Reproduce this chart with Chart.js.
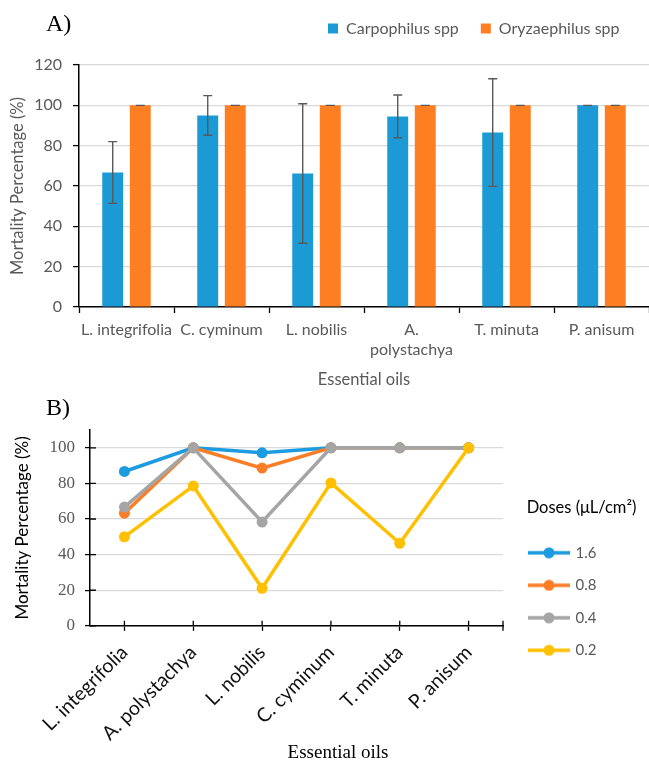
<!DOCTYPE html>
<html><head><meta charset="utf-8">
<script src="https://cdn.jsdelivr.net/npm/chart.js@4.4.1/dist/chart.umd.min.js"></script>
<style>
html,body{margin:0;padding:0;background:#fff;width:649px;height:761px;overflow:hidden;}
#wrapA{position:absolute;left:0;top:0;width:649px;height:395px;}
#wrapB{position:absolute;left:0;top:395px;width:649px;height:366px;}
.panel{position:absolute;font-family:'Liberation Serif','Times New Roman',serif;font-size:24px;line-height:28px;color:#000;}
</style></head><body>
<div id="wrapA"><canvas id="chartA" width="649" height="395"></canvas></div>
<div id="wrapB"><canvas id="chartB" width="649" height="366"></canvas></div>
<div class="panel" style="left:46px;top:9px">A)</div>
<div class="panel" style="left:46px;top:393px">B)</div>
<script>
// ---------- data ----------
const oilsA = ['L. integrifolia', 'C. cyminum', 'L. nobilis', ['A.', 'polystachya'], 'T. minuta', 'P. anisum'];
const carpophilus = [66.7, 95.0, 66.2, 94.5, 86.5, 100];
const carpophilusErr = [15.3, 9.8, 34.6, 10.6, 26.7, 0];
const oryzaephilus = [100, 100, 100, 100, 100, 100];
const oryzaephilusErr = [0, 0, 0, 0, 0, 0];
const ticksA = [0, 20, 40, 60, 80, 100, 120];

const oilsB = ['L. integrifolia', 'A. polystachya', 'L. nobilis', 'C. cyminum', 'T. minuta', 'P. anisum'];
const doseLabels = ['1.6', '0.8', '0.4', '0.2'];
const dose16 = [86.7, 100, 97.2, 100, 100, 100];
const dose08 = [63.3, 100, 88.6, 100, 100, 100];
const dose04 = [66.7, 100, 58.3, 100, 100, 100];
const dose02 = [50, 78.6, 21.1, 80.3, 46.4, 100];
const ticksB = [0, 20, 40, 60, 80, 100];

Chart.defaults.font.family = 'Lato';
const GREY_TXT = '#595959';

// ---------- chart A ----------
const errorBars = {
  id: 'errorBars',
  afterDatasetsDraw(chart) {
    const ctx = chart.ctx, ys = chart.scales.y;
    chart.data.datasets.forEach((ds, di) => {
      const meta = chart.getDatasetMeta(di);
      meta.data.forEach((bar, i) => {
        const v = ds.data[i], e = ds.errors[i];
        const x = bar.x;
        const top = ys.getPixelForValue(v + e);
        const bot = ys.getPixelForValue(v - e);
        ctx.save();
        ctx.strokeStyle = '#595959';
        ctx.lineWidth = 1.4;
        ctx.beginPath();
        ctx.moveTo(x, top); ctx.lineTo(x, bot);
        ctx.moveTo(x - 4.5, top); ctx.lineTo(x + 4.5, top);
        ctx.moveTo(x - 4.5, bot); ctx.lineTo(x + 4.5, bot);
        ctx.stroke();
        ctx.restore();
      });
    });
  }
};
const legendPosA = {
  id: 'legendPosA',
  afterInit(chart) {
    const lg = chart.legend;
    const orig = lg.fit.bind(lg);
    lg.fit = function () { orig(); this.height = 65; };
  },
  beforeDraw(chart) {
    const lg = chart.legend;
    lg.left = 306; lg.right = 649; lg.top = -1.5; lg.bottom = 60;
  }
};

new Chart(document.getElementById('chartA'), {
  type: 'bar',
  data: {
    labels: oilsA,
    datasets: [
      { label: 'Carpophilus spp', data: carpophilus, errors: carpophilusErr, backgroundColor: '#1c9ad6', borderWidth: 0,
        categoryPercentage: 0.58, barPercentage: 0.76 },
      { label: 'Oryzaephilus spp', data: oryzaephilus, errors: oryzaephilusErr, backgroundColor: '#fe7f22', borderWidth: 0,
        categoryPercentage: 0.58, barPercentage: 0.76 }
    ]
  },
  options: {
    responsive: false, animation: false,
    layout: { padding: 0 },
    plugins: {
      legend: {
        display: true, position: 'top', align: 'start',
        labels: { boxWidth: 10, boxHeight: 10, padding: 22, color: GREY_TXT, font: { size: 16 } }
      },
      tooltip: { enabled: false }
    },
    scales: {
      x: {
        grid: { display: true, offset: true, drawOnChartArea: false, tickLength: 6, tickColor: '#000', tickWidth: 1.3 },
        border: { color: '#000', width: 1.5 },
        ticks: { color: GREY_TXT, font: { size: 16, lineHeight: 1.3 }, padding: 6, maxRotation: 0, autoSkip: false },
        title: { display: true, text: 'Essential oils', color: GREY_TXT, font: { size: 16.5, lineHeight: 1.2 }, padding: { top: 0, bottom: 5 } },
        afterFit(s) { s.height = 88; }
      },
      y: {
        min: 0, max: 120,
        afterBuildTicks(s) { s.ticks = ticksA.map(v => ({ value: v })); },
        grid: { color: '#d9d9d9', lineWidth: 1.2, tickLength: 6, tickColor: '#000', tickWidth: 1.3 },
        border: { color: '#000', width: 1.5 },
        ticks: { color: GREY_TXT, font: { size: 16 }, padding: 11 },
        title: { display: true, text: 'Mortality Percentage (%)', color: GREY_TXT, font: { size: 16.5, lineHeight: 1.2 }, padding: { top: 8 } },
        afterFit(s) { s.width = 79; }
      }
    }
  },
  plugins: [errorBars, legendPosA]
});

// ---------- chart B ----------
const colorsB = ['#1b9be0', '#fb7e27', '#a5a5a5', '#ffc000'];
function legendIcon(color) {
  const c = document.createElement('canvas');
  c.width = 42; c.height = 12;
  const g = c.getContext('2d');
  g.strokeStyle = color; g.lineWidth = 3.5;
  g.beginPath(); g.moveTo(0, 6); g.lineTo(42, 6); g.stroke();
  g.fillStyle = color;
  g.beginPath(); g.arc(21, 6, 5.5, 0, Math.PI * 2); g.fill();
  return c;
}
const icons = colorsB.map(legendIcon);

const legendPosB = {
  id: 'legendPosB',
  afterInit(chart) {
    const lg = chart.legend;
    const orig = lg.fit.bind(lg);
    lg.fit = function () { orig(); this.width = 146; };
  },
  beforeDraw(chart) {
    const lg = chart.legend;
    lg.left = 512.5; lg.width = 138; lg.right = 649; lg.top = 104; lg.bottom = 366;
  }
};
const crossTicks = {
  id: 'crossTicks',
  afterDraw(chart) {
    const ctx = chart.ctx, xs = chart.scales.x, ys = chart.scales.y, a = chart.chartArea;
    ctx.save();
    ctx.strokeStyle = '#000'; ctx.lineWidth = 1.3;
    ctx.beginPath();
    for (let i = 0; i < xs.ticks.length; i++) {
      const x = xs.getPixelForTick(i);
      ctx.moveTo(x, a.bottom - 5); ctx.lineTo(x, a.bottom);
    }
    ctx.moveTo(a.right, a.bottom - 5); ctx.lineTo(a.right, a.bottom + 5);
    ys.ticks.forEach(t => {
      const y = ys.getPixelForValue(t.value);
      ctx.moveTo(a.left, y); ctx.lineTo(a.left + 6, y);
    });
    ctx.stroke();
    ctx.restore();
  }
};

const seriesB = [dose16, dose08, dose04, dose02];
new Chart(document.getElementById('chartB'), {
  type: 'line',
  data: {
    labels: oilsB,
    datasets: seriesB.map((d, i) => ({
      label: doseLabels[i], data: d,
      borderColor: colorsB[i], backgroundColor: colorsB[i],
      pointBackgroundColor: colorsB[i], pointBorderColor: colorsB[i],
      borderWidth: 3.5, pointRadius: 5.5, pointBorderWidth: 0,
      tension: 0, fill: false, order: 4 - i
    }))
  },
  options: {
    responsive: false, animation: false,
    layout: { padding: { left: 27, top: 35, right: 0, bottom: 0 } },
    plugins: {
      tooltip: { enabled: false },
      title: {
        display: true, position: 'bottom', text: 'Essential oils', color: '#000',
        font: { family: 'Liberation Serif', size: 19, weight: 'normal', lineHeight: 0.85 }, padding: 0
      },
      legend: {
        display: true, position: 'right', align: 'start',
        title: { display: true, text: 'Doses (μL/cm²)', color: '#000', font: { size: 16.5, lineHeight: 1.2 }, padding: { top: 0, bottom: 9 }, position: 'center' },
        labels: {
          usePointStyle: true, pointStyleWidth: 38, padding: 17.5, color: GREY_TXT, font: { size: 15 },
          sort: (a, b) => a.datasetIndex - b.datasetIndex,
          generateLabels(chart) {
            const items = Chart.defaults.plugins.legend.labels.generateLabels(chart);
            items.forEach(it => { it.pointStyle = icons[it.datasetIndex]; });
            return items;
          }
        }
      }
    },
    scales: {
      x: {
        offset: true,
        grid: { display: true, offset: false, drawOnChartArea: false, tickLength: 5, tickColor: '#000', tickWidth: 1.3 },
        border: { color: '#000', width: 1.5 },
        ticks: { color: '#111', font: { size: 19.5 }, minRotation: 45, maxRotation: 45, autoSkip: false, padding: 10 },
        afterFit(s) { s.height = 119; }
      },
      y: {
        min: 0, max: 110,
        afterBuildTicks(s) { s.ticks = ticksB.map(v => ({ value: v })); },
        grid: { color: '#d9d9d9', lineWidth: 1.2, tickLength: 5, tickColor: '#000', tickWidth: 1.3 },
        border: { color: '#000', width: 1.5 },
        ticks: { color: GREY_TXT, font: { family: 'Liberation Serif', size: 17 }, padding: 10 },
        title: { display: true, text: 'Mortality Percentage (%)', color: '#000', font: { size: 17, lineHeight: 1.2 }, padding: { top: -15 } },
        afterFit(s) { s.width = 63; }
      }
    }
  },
  plugins: [legendPosB, crossTicks]
});
</script>
</body></html>
